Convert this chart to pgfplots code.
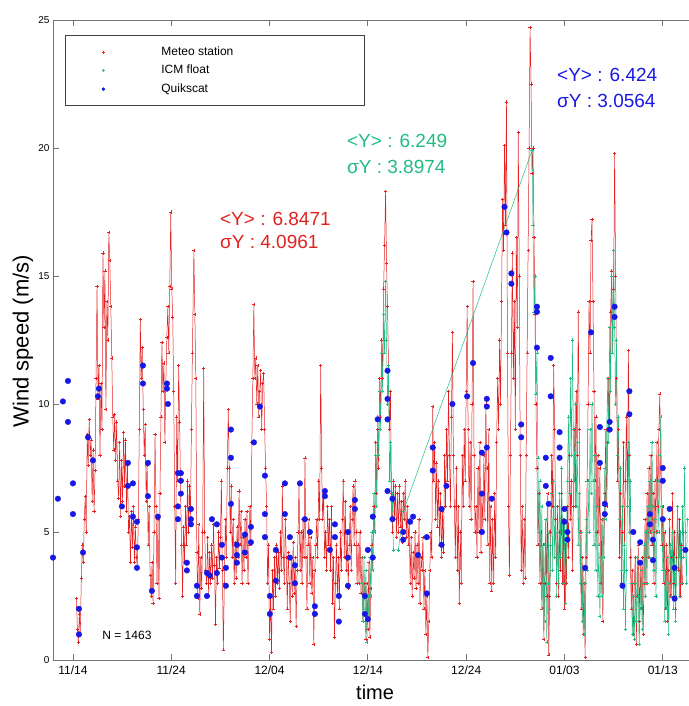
\documentclass[border=0pt]{standalone}
\usepackage{fontspec}
\setmainfont{Liberation Sans}
\usepackage{pgfplots}
\pgfplotsset{compat=1.18}

\definecolor{mred}{RGB}{228,32,32}
\definecolor{mgreen}{RGB}{32,188,130}
\definecolor{mblue}{RGB}{24,24,230}

\begin{document}
\begin{tikzpicture}
\begin{axis}[
    scale only axis,
    width=660pt, height=640pt,
    xmin=-2.03, xmax=65.11,
    ymin=0, ymax=25,
    xtick={0,10,20,30,40,50,60},
    xticklabels={11/14,11/24,12/04,12/14,12/24,01/03,01/13},
    ytick={0,5,10,15,20,25},
    tick align=inside,
    major tick length=6pt,
    axis line style={black!55, line width=0.9pt},
    every tick/.style={black!55, line width=0.9pt},
    x tick label style={font=\fontsize{12}{12}\selectfont, yshift=-2pt},
    y tick label style={font=\fontsize{10}{10}\selectfont},
    /pgf/number format/assume math mode=true,
    xlabel={time},
    ylabel={Wind speed (m/s)},
    xlabel style={font=\fontsize{20}{20}\selectfont, at={(axis description cs:0.488,-0.0505)}, anchor=center},
    ylabel style={font=\fontsize{22}{22}\selectfont, at={(axis description cs:-0.0455,0.498)}, anchor=center},
    legend cell align=left,
    legend style={at={(axis description cs:0.01818,0.97656)}, anchor=north west,
        draw=black!75, line width=0.8pt, fill=white,
        inner xsep=0pt, inner ysep=8pt, row sep=1pt,
        font=\fontsize{12}{12}\selectfont,
        nodes={inner xsep=3pt, inner ysep=3pt, text height=9pt, text depth=2.5pt}},
    legend image code/.code={\path[draw=none, fill=none] (-38pt,-1pt) rectangle (55pt,1pt);
        \draw[#1, only marks] plot coordinates {(0pt,0pt)};},
]

% Meteo station
\addplot[color=mred, line width=0.5pt, mark=+, mark size=1.6pt,
    legend image post style={mark size=1.6pt}] coordinates {
(0.35,2.4) (0.45,1.2) (0.55,0.7) (0.65,1.8) (0.75,1.0) (0.85,3.2) (0.95,4.5) (1.05,3.8) (1.15,5.5) (1.25,6.4)
(1.35,5.0) (1.45,8.8) (1.55,7.6) (1.65,9.4) (1.75,8.0) (1.85,8.6) (1.95,6.2) (2.05,8.2) (2.15,5.8) (2.25,7.4)
(2.35,11.0) (2.45,14.6) (2.55,10.2) (2.65,11.5) (2.75,8.0) (2.85,10.8) (2.95,9.0) (3.05,15.9) (3.15,13.0) (3.25,15.2)
(3.35,9.8) (3.45,14.0) (3.55,12.5) (3.65,16.7) (3.75,15.6) (3.85,13.8) (3.95,11.8) (4.05,9.5) (4.15,8.2) (4.25,9.6)
(4.35,7.8) (4.45,9.3) (4.55,7.0) (4.65,6.3) (4.75,8.5) (4.85,5.6) (4.95,7.8) (5.05,6.2) (5.15,8.9) (5.25,6.8)
(5.35,8.6) (5.45,5.8) (5.55,7.6) (5.65,5.0) (5.75,5.6) (5.85,3.8) (5.95,5.8) (6.05,4.4) (6.15,6.0) (6.25,3.8)
(6.35,5.2) (6.45,4.0) (6.55,3.6) (6.65,5.5) (6.75,9.0) (6.85,13.3) (6.95,11.0) (7.05,12.2) (7.15,9.8) (7.25,8.0)
(7.35,9.2) (7.45,6.2) (7.55,7.6) (7.65,4.5) (7.75,6.0) (7.85,3.3) (7.95,2.5) (8.05,3.8) (8.15,2.2)
(8.25,5.0) (8.35,8.8) (8.45,6.0) (8.55,3.0) (8.65,5.5) (8.75,2.4) (8.85,6.5) (8.95,9.5) (9.05,12.4) (9.15,10.5)
(9.25,11.6) (9.35,8.5) (9.45,10.8) (9.55,12.6) (9.65,13.8) (9.75,12.0) (9.85,14.6) (9.95,17.5) (10.05,14.5) (10.15,13.4)
(10.25,10.5) (10.35,6.0) (10.45,3.0) (10.55,9.5) (10.65,7.0) (10.75,11.5) (10.85,9.3) (10.95,6.5) (11.05,4.5) (11.15,2.5)
(11.25,5.2) (11.35,3.8) (11.45,6.0) (11.55,4.5) (11.65,7.0) (11.75,5.0) (11.85,6.8) (11.95,5.5) (12.05,9.0) (12.15,12.0)
(12.3,16.0) (12.4,13.5) (12.5,11.0) (12.6,4.2) (12.7,2.4) (12.8,5.3) (12.9,1.8) (13.0,4.0) (13.1,2.8) (13.2,5.0)
(13.3,11.4) (13.4,5.0) (13.5,3.5) (13.6,3.0) (13.7,4.8) (13.8,2.5) (13.9,4.2) (14.0,3.0) (14.1,4.5) (14.2,3.2)
(14.3,5.3) (14.4,3.7) (14.5,1.4) (14.6,4.0) (14.7,3.0) (14.8,5.0) (14.9,3.6) (15.0,4.8) (15.1,7.0) (15.2,3.5)
(15.3,0.4) (15.4,3.0) (15.5,5.5) (15.6,4.0) (15.7,7.5) (15.8,9.8) (15.9,7.5) (16.0,5.0) (16.1,6.8) (16.2,4.0)
(16.3,5.5) (16.4,3.0) (16.5,4.6) (16.6,3.2) (16.7,5.2) (16.8,4.0) (16.9,6.6) (17.0,4.5) (17.1,5.8) (17.2,3.0)
(17.3,4.8) (17.4,3.5) (17.5,5.5) (17.6,4.0) (17.7,5.8) (17.8,3.0) (17.9,4.5) (18.0,6.0) (18.1,4.5) (18.2,8.5)
(18.3,11.0) (18.4,13.9) (18.5,11.0) (18.6,11.8) (18.7,10.0) (18.8,11.5) (18.9,9.5) (19.0,10.5) (19.1,11.3) (19.2,9.0)
(19.3,10.8) (19.4,11.2) (19.5,9.0) (19.6,7.5) (19.7,6.0) (19.8,3.0) (19.9,4.5) (20.0,0.8) (20.1,2.5) (20.2,0.3)
(20.3,3.5) (20.4,2.0) (20.5,4.0) (20.6,2.5) (20.7,4.5) (20.8,3.0) (20.9,4.2) (21.0,2.8) (21.1,5.0) (21.2,3.5)
(21.3,6.8) (21.4,4.0) (21.5,3.0) (21.6,5.5) (21.7,4.0) (21.8,2.0) (21.9,4.2) (22.0,3.0) (22.1,1.5) (22.2,4.0)
(22.3,2.5) (22.4,4.6) (22.5,2.6) (22.6,4.0) (22.7,1.3) (22.8,3.5) (22.9,5.0) (23.0,6.9) (23.1,3.5) (23.2,5.0)
(23.3,3.0) (23.4,5.5) (23.5,4.0) (23.6,7.9) (23.7,4.0) (23.8,2.0) (23.9,4.5) (24.0,5.5) (24.1,3.0) (24.2,4.8)
(24.3,2.6) (24.4,4.0) (24.5,0.6) (24.6,3.5) (24.7,4.5) (24.8,5.5) (24.9,4.0) (25.0,7.0) (25.1,5.5) (25.2,11.5)
(25.3,7.5) (25.4,5.5) (25.5,6.5) (25.6,4.0) (25.7,5.0) (25.8,3.5) (25.9,6.0) (26.0,4.5) (26.1,5.5) (26.2,3.5)
(26.3,6.0) (26.4,2.2) (26.5,4.0) (26.6,0.9) (26.7,3.0) (26.8,4.5) (26.9,2.5) (27.0,4.0) (27.1,2.0) (27.2,5.0)
(27.3,3.5) (27.4,5.5) (27.5,7.0) (27.6,4.0) (27.7,6.2) (27.8,3.5) (27.9,5.0) (28.0,2.8) (28.1,4.5) (28.2,6.0)
(28.3,3.5) (28.4,5.5) (28.5,6.8) (28.6,4.5) (28.7,7.0) (28.8,5.0) (28.9,3.0) (29.0,4.5) (29.1,3.0) (29.2,5.0)
(29.3,2.6) (29.4,4.0) (29.5,1.5) (29.6,3.0) (29.7,2.5) (29.8,0.8) (29.9,3.0) (30.0,1.2) (30.1,3.8) (30.2,0.9)
(30.3,2.8) (30.4,4.5) (30.5,3.5) (30.6,6.0) (30.7,5.0) (30.8,8.5) (30.9,6.5) (31.0,9.0) (31.1,7.5) (31.2,11.0)
(31.3,9.5) (31.4,12.5) (31.5,11.0) (31.6,14.5) (31.7,16.2) (31.8,18.3) (31.9,15.5) (32.0,13.8) (32.1,11.5) (32.2,9.0)
(32.3,10.5) (32.4,6.5) (32.5,5.0) (32.6,7.0) (32.7,5.5) (32.8,6.8) (32.9,4.8) (33.0,6.5) (33.1,5.0) (33.2,6.8)
(33.3,5.2) (33.4,6.2) (33.5,4.6) (33.6,6.5) (33.7,5.5) (33.8,7.0) (33.9,4.8) (34.0,6.0) (34.1,4.5) (34.2,5.5)
(34.3,3.0) (34.4,4.8) (34.5,2.5) (34.6,4.2) (34.7,3.2) (34.8,5.0) (34.9,2.8) (35.0,4.5) (35.1,3.0) (35.2,5.5)
(35.3,2.2) (35.4,4.0) (35.5,3.5) (35.6,4.8) (35.7,2.0) (35.8,3.5) (35.9,1.0) (36.0,2.5) (36.1,0.1) (36.2,1.5)
(36.3,3.5) (36.4,5.0) (36.5,4.0) (36.6,9.9) (36.7,7.0) (36.8,8.5) (36.9,5.5) (37.0,7.7) (37.1,5.2) (37.2,7.0)
(37.3,4.5) (37.4,6.5) (37.5,4.0) (37.6,5.8) (37.7,4.2) (37.8,8.0) (37.9,6.0) (38.0,9.0) (38.1,7.0) (38.2,10.5)
(38.3,8.0) (38.4,6.0) (38.5,9.5) (38.6,12.8) (38.7,8.0) (38.8,6.0) (38.9,4.0) (39.0,7.5) (39.1,3.5) (39.2,6.0)
(39.3,2.2) (39.4,5.0) (39.5,3.0) (39.6,8.0) (39.7,6.0) (39.8,9.0) (39.9,7.0) (40.0,10.5) (40.1,13.8) (40.2,9.0)
(40.3,6.0) (40.4,8.5) (40.5,5.5) (40.6,10.0) (40.7,14.8) (40.8,8.0) (40.9,5.0) (41.0,6.0) (41.1,4.0) (41.2,7.5)
(41.3,5.0) (41.4,8.5) (41.5,4.2) (41.6,6.5) (41.7,5.0) (41.8,8.0) (41.9,5.5) (42.0,10.0) (42.1,7.5) (42.2,4.5)
(42.3,9.0) (42.4,3.0) (42.5,6.0) (42.6,2.7) (42.7,5.5) (42.8,3.0) (42.9,6.5) (43.0,4.0) (43.1,8.5) (43.2,11.0)
(43.3,9.0) (43.4,12.5) (43.5,10.0) (43.6,14.0) (43.7,18.0) (43.8,16.0) (43.9,20.1) (44.0,17.0) (44.1,21.8) (44.2,12.0)
(44.3,6.0) (44.4,3.3) (44.5,8.0) (44.6,12.0) (44.7,15.9) (44.8,11.0) (44.9,14.0) (45.0,9.0) (45.1,16.5) (45.2,13.0)
(45.3,20.6) (45.4,15.0) (45.5,8.0) (45.6,3.5) (45.7,6.0) (45.8,3.0) (45.9,5.5) (46.0,3.2) (46.1,8.0) (46.2,12.0)
(46.3,16.0) (46.4,20.0) (46.5,24.7) (46.6,22.5) (46.7,19.0) (46.8,20.0) (46.9,16.5) (47.0,13.5) (47.1,10.0) (47.2,7.5)
(47.3,4.5) (47.4,6.5) (47.5,3.0) (47.6,5.0) (47.7,2.0) (47.8,4.5) (47.9,0.8) (48.0,3.0) (48.1,5.5) (48.2,2.5)
(48.3,6.5) (48.4,0.2) (48.5,2.5) (48.6,5.0) (48.7,8.0) (48.8,6.0) (48.9,11.5) (49.0,9.0) (49.1,5.5) (49.2,3.0)
(49.3,6.0) (49.4,2.5) (49.5,5.0) (49.6,3.5) (49.7,6.5) (49.8,3.0) (49.9,5.5) (50.0,2.0) (50.1,4.5) (50.2,3.0)
(50.3,6.0) (50.4,4.0) (50.5,8.0) (50.6,5.5) (50.7,7.0) (50.8,3.5) (50.9,6.0) (51.0,9.0) (51.1,6.0) (51.2,10.5)
(51.3,8.0) (51.4,13.6) (51.5,9.0) (51.6,5.0) (51.7,2.0) (51.8,4.0) (51.9,1.0) (52.0,3.0) (52.1,0.1) (52.2,4.0)
(52.3,7.0) (52.4,10.0) (52.5,14.0) (52.6,12.0) (52.7,16.4) (52.8,17.2) (52.9,14.0) (53.0,10.5) (53.1,7.0) (53.2,9.5)
(53.3,5.0) (53.4,8.0) (53.5,4.5) (53.6,7.5) (53.7,3.0) (53.8,5.5) (53.9,1.5) (54.0,4.0) (54.1,6.5) (54.2,9.0)
(54.3,6.0) (54.4,8.5) (54.5,11.0) (54.6,9.0) (54.7,13.6) (54.8,15.2) (54.9,12.0) (55.0,14.5) (55.1,19.8) (55.2,15.0)
(55.3,11.0) (55.4,7.0) (55.5,9.0) (55.6,4.0) (55.7,6.5) (55.8,3.0) (55.9,5.0) (56.0,8.5) (56.1,4.5) (56.2,7.0)
(56.3,9.5) (56.4,6.0) (56.5,12.1) (56.6,8.0) (56.7,4.0) (56.8,2.0) (56.9,3.5) (57.0,1.0) (57.1,3.0) (57.2,4.0)
(57.3,0.6) (57.4,2.5) (57.5,4.5) (57.6,1.5) (57.7,3.8) (57.8,2.0) (57.9,4.0) (58.0,1.0) (58.1,3.0) (58.2,5.5)
(58.3,3.0) (58.4,6.5) (58.5,4.0) (58.6,7.5) (58.7,5.0) (58.8,8.0) (58.9,4.5) (59.0,6.5) (59.1,3.0) (59.2,7.0)
(59.3,5.0) (59.4,8.5) (59.5,6.0) (59.6,9.0) (59.7,10.4) (59.8,7.0) (59.9,4.5) (60.0,6.0) (60.1,3.0) (60.2,5.0)
(60.3,2.0) (60.4,4.5) (60.5,1.5) (60.6,3.5) (60.7,5.5) (60.8,2.5) (60.9,4.0) (61.0,6.5) (61.1,3.0) (61.2,5.0)
(61.3,2.0) (61.4,4.0) (61.5,6.0) (61.6,3.5) (61.7,5.5) (61.8,2.5) (61.9,4.5) (62.0,3.0)
};
\addlegendentry{\makebox[200pt][l]{Meteo station}}

% ICM float
\addplot[color=mgreen, line width=0.5pt, mark=+, mark size=1.6pt,
    legend image post style={mark size=1.6pt}] coordinates {
(29.4,3.0) (29.5,1.5) (29.6,4.0) (29.7,2.0) (29.8,3.5) (29.9,0.7) (30.0,2.5) (30.1,1.5) (30.2,4.0) (30.3,2.5)
(30.4,5.0) (30.5,3.5) (30.6,6.5) (30.7,5.0) (30.8,8.0) (30.9,6.0) (31.0,9.5) (31.1,8.0) (31.2,10.5) (31.3,9.0)
(31.4,12.0) (31.5,10.5) (31.6,13.5) (31.7,12.0) (31.8,14.8) (31.9,12.5) (32.0,10.0) (32.1,11.5) (32.2,7.0) (32.3,8.5)
(32.4,5.5) (32.5,6.5) (32.6,4.3) (33.1,4.3) (33.6,5.8)
(46.7,19.9) (46.8,17.0) (46.9,13.6) (47.0,15.0) (47.1,10.4) (47.2,12.0) (47.3,7.9) (47.4,5.0) (47.5,7.0) (47.6,3.5)
(47.7,6.0) (47.8,2.0) (47.9,4.5) (48.0,1.5) (48.1,5.5) (48.2,0.7) (48.3,3.0) (48.4,5.0) (48.5,2.0) (48.6,4.5)
(48.7,6.5) (48.8,3.5) (48.9,7.0) (49.0,4.0) (49.1,6.0) (49.2,2.5) (49.3,5.0) (49.4,3.0) (49.5,6.5) (49.6,4.0)
(49.7,7.5) (49.8,5.0) (49.9,3.0) (50.0,5.5) (50.1,2.2) (50.2,4.5) (50.3,7.0) (50.4,9.5) (50.5,6.5) (50.6,11.0)
(50.7,8.0) (50.8,12.5) (50.9,9.0) (51.0,7.0) (51.1,10.0) (51.2,6.0) (51.3,8.5) (51.4,4.5) (51.5,6.5) (51.6,3.0)
(51.7,5.0) (51.8,1.5) (51.9,3.5) (52.0,1.0) (52.1,3.0) (52.2,5.5) (52.3,3.5) (52.4,7.0) (52.5,5.0) (52.6,9.0)
(52.7,6.5) (52.8,10.0) (52.9,7.0) (53.0,4.5) (53.1,8.0) (53.2,3.5) (53.3,6.0) (53.4,2.5) (53.5,4.5) (53.6,1.7)
(53.7,4.0) (53.8,2.5) (53.9,5.5) (54.0,4.0) (54.1,7.5) (54.2,5.5) (54.3,9.0) (54.4,11.0) (54.5,8.5) (54.6,13.0)
(54.7,10.5) (54.8,15.0) (54.9,12.0) (55.0,16.0) (55.1,13.0) (55.2,10.0) (55.3,12.5) (55.4,8.0) (55.5,9.5) (55.6,5.5)
(55.7,7.5) (55.8,3.5) (55.9,6.0) (56.0,2.0) (56.1,4.5) (56.2,1.2) (56.3,3.5) (56.4,6.0) (56.5,8.5) (56.6,5.0)
(56.7,7.0) (56.8,3.0) (56.9,1.0) (57.0,2.5) (57.1,0.8) (57.2,3.0) (57.3,1.5) (57.4,4.0) (57.5,2.5) (57.6,0.6)
(57.7,2.0) (57.8,3.5) (57.9,1.2) (58.0,3.0) (58.1,4.5) (58.2,2.5) (58.3,5.0) (58.4,3.0) (58.5,6.0) (58.6,4.0)
(58.7,7.0) (58.8,5.0) (58.9,8.5) (59.0,6.0) (59.1,3.5) (59.2,5.5) (59.3,2.5) (59.4,5.0) (59.5,7.0) (59.6,5.0)
(59.7,8.0) (59.8,9.5) (59.9,6.0) (60.0,3.5) (60.1,5.5) (60.2,1.5) (60.3,3.5) (60.4,2.0) (60.5,4.0) (60.6,1.0)
(60.7,3.0) (60.8,4.5) (60.9,2.5) (61.0,5.0) (61.1,2.0) (61.2,4.0) (61.3,1.5) (61.4,3.5) (61.5,6.0) (61.6,4.0)
(61.7,2.5) (61.8,5.0) (61.9,3.0) (62.0,6.0) (62.1,4.0) (62.2,7.5) (62.3,5.0) (62.4,3.0) (62.5,5.5)
};
\addlegendentry{\makebox[200pt][l]{ICM float}}

% Quikscat
\addplot[only marks, mark=*, mark size=2.8pt, color=mblue,
    legend image post style={mark size=1.3pt}] coordinates {
(-2.03,4.0) (-1.53,6.3) (-1.02,10.1) (-0.51,10.9) (-0.51,9.3) (0,6.9) (0,5.7) (0.61,2.0) (0.61,1.0) (1.02,4.2)
(1.53,8.7) (2.03,7.8) (2.54,10.3) (2.64,10.6) (4.98,6.0) (5.59,7.7) (5.59,6.8) (6.10,6.9) (6.10,5.6) (6.51,5.4)
(6.51,4.4) (6.51,3.6) (7.12,11.5) (7.12,10.8) (7.63,7.7) (7.63,6.4) (8.03,2.7) (8.64,5.6) (9.56,10.8) (9.56,10.6)
(9.66,10.0) (10.68,7.3) (10.68,6.0) (10.68,5.5) (10.98,7.3) (10.98,7.0) (10.98,6.5) (11.59,3.8) (11.59,3.5) (12.0,5.9)
(12.0,5.5) (12.0,5.3) (12.61,2.9) (12.61,2.5) (13.63,2.5) (13.63,3.4) (13.93,3.3) (14.14,5.5) (14.64,5.3) (14.64,3.4)
(15.15,4.5) (15.15,4.0) (15.56,3.6) (15.56,2.9) (16.07,9.0) (16.07,7.9) (16.07,6.1) (16.68,4.5) (16.68,4.1) (16.68,3.8)
(17.49,4.9) (17.49,4.2) (18.1,5.2) (18.1,4.6) (18.41,8.5) (19.02,9.9) (19.53,7.2) (19.53,5.7) (19.53,4.8) (20.03,2.5)
(20.03,1.8) (20.64,4.3) (20.64,3.1) (21.56,6.9) (21.56,5.7) (22.07,4.8) (22.07,4.0) (22.58,3.7) (22.58,3.0) (23.09,6.9)
(23.59,5.5) (24.1,5.0) (24.61,2.1) (24.61,1.8) (25.63,6.6) (25.63,6.4) (26.14,4.3) (26.65,5.3) (26.65,4.8) (27.05,2.5)
(27.05,1.5) (27.97,5.0) (27.97,4.0) (27.97,2.9) (28.68,6.25) (28.68,5.9) (29.7,2.5) (29.7,1.8) (30.0,1.6) (30.0,4.3)
(30.5,5.6) (30.5,4.0) (31.0,9.4) (32.0,11.3) (32.0,10.2) (32.0,9.4) (32.0,6.6) (32.5,6.3) (32.5,5.5) (33.6,5.0)
(33.6,4.7) (34.3,5.4) (34.6,5.6) (35.1,4.1) (36.0,4.8) (36.0,2.6) (36.6,8.3) (36.6,7.4) (37.5,5.9) (37.5,4.5)
(38.0,6.8) (38.6,10.0) (40.1,10.3) (40.7,11.6) (41.6,8.1) (41.6,6.5) (41.6,5.0) (42.1,10.2) (42.1,9.9) (42.1,8.3)
(42.6,6.3) (43.9,17.7) (44.1,16.7) (44.6,15.1) (44.6,14.7) (45.6,9.2) (45.6,8.7) (47.2,13.8) (47.2,13.6) (47.2,12.2)
(48.1,7.9) (48.1,6.8) (48.4,6.1) (48.6,11.8) (48.6,10.3) (49.5,8.9) (49.5,8.3) (49.5,7.9) (50.0,5.9) (50.0,5.4)
(50.3,5.0) (50.3,4.7) (52.1,3.6) (52.7,12.8) (53.6,9.1) (53.6,7.7) (54.1,6.1) (54.1,5.7) (54.6,9.3) (54.6,9.0)
(55.1,13.8) (55.1,13.4) (55.9,2.9) (56.6,10.5) (56.6,9.6) (57.0,5.0) (57.7,4.6) (57.7,3.8) (58.7,5.7) (58.7,5.3)
(59.0,4.7) (59.0,3.9) (60.0,7.5) (60.0,7.0) (60.0,5.5) (60.7,5.9) (61.2,3.6) (61.2,2.4) (62.3,4.3)
};
\addlegendentry{\makebox[200pt][l]{Quikscat}}

\node[anchor=base west, inner sep=0pt, text=mred, font=\fontsize{19}{19}\selectfont] at (axis cs:14.95,16.99) {<Y> : 6.8471};
\node[anchor=base west, inner sep=0pt, text=mred, font=\fontsize{19}{19}\selectfont] at (axis cs:14.95,16.09) {σY : 4.0961};
\node[anchor=base west, inner sep=0pt, text=mgreen, font=\fontsize{19}{19}\selectfont] at (axis cs:27.87,20.0) {<Y> : 6.249};
\node[anchor=base west, inner sep=0pt, text=mgreen, font=\fontsize{19}{19}\selectfont] at (axis cs:27.87,19.02) {σY : 3.8974};
\node[anchor=base west, inner sep=0pt, text=mblue, font=\fontsize{19}{19}\selectfont] at (axis cs:49.24,22.58) {<Y> : 6.424};
\node[anchor=base west, inner sep=0pt, text=mblue, font=\fontsize{19}{19}\selectfont] at (axis cs:49.24,21.6) {σY : 3.0564};
\node[font=\fontsize{12}{12}\selectfont] at (axis cs:5.49,0.98) {N = 1463};

\end{axis}
\pgfresetboundingbox
\useasboundingbox (-53pt,-46pt) rectangle (635pt,660pt);
\end{tikzpicture}
\end{document}
